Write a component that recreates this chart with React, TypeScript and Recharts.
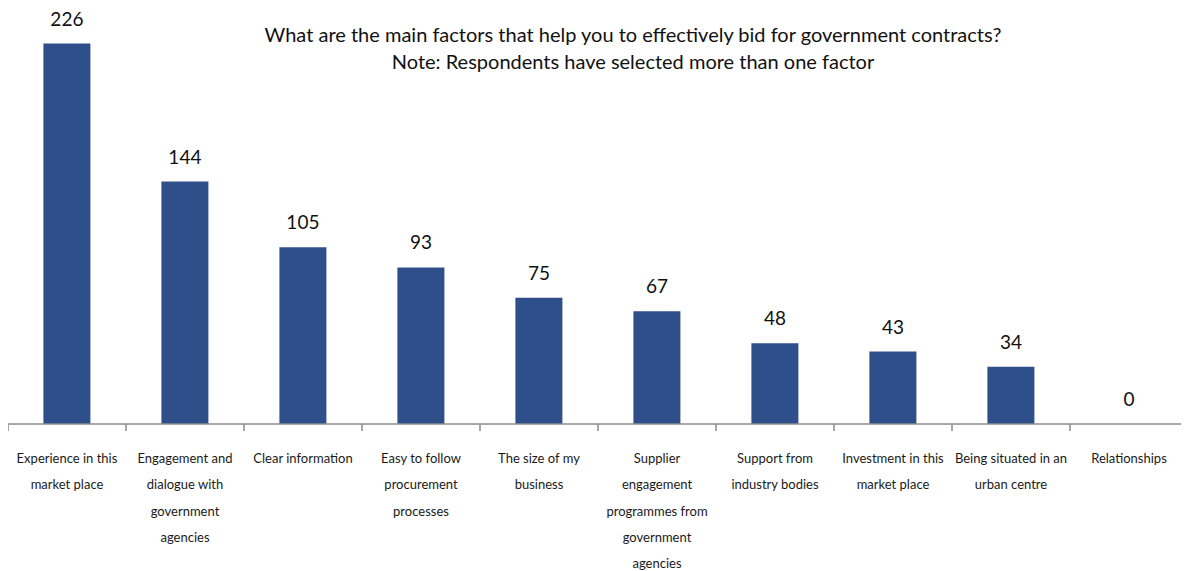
import { BarChart, Bar, XAxis, YAxis, LabelList } from 'recharts';

const categories = [
  'Experience in this\nmarket place',
  'Engagement and\ndialogue with\ngovernment\nagencies',
  'Clear information',
  'Easy to follow\nprocurement\nprocesses',
  'The size of my\nbusiness',
  'Supplier\nengagement\nprogrammes from\ngovernment\nagencies',
  'Support from\nindustry bodies',
  'Investment in this\nmarket place',
  'Being situated in an\nurban centre',
  'Relationships',
];
const responses = [226, 144, 105, 93, 75, 67, 48, 43, 34, 0];
const titleLines = [
  'What are the main factors that help you to effectively bid for government contracts?',
  'Note: Respondents have selected more than one factor',
];

const data = categories.map((name, i) => ({ name, value: responses[i] }));

const FONT = 'Lato, "Open Sans", sans-serif';
const AXIS_COLOR = '#8c8c8c';
const TICK_SHIFT = 8;

const CategoryTick = (props: any) => {
  const { x, y, payload, index } = props;
  const band = 1180 / categories.length;
  const top = y - TICK_SHIFT;
  const lines = String(payload.value).split('\n');
  const isLast = index === categories.length - 1;
  return (
    <g>
      <line x1={x - band / 2} y1={top} x2={x - band / 2} y2={top + 7} stroke={AXIS_COLOR} strokeWidth={1.5} />
      {isLast && (
        <line x1={x + band / 2 - 1} y1={top} x2={x + band / 2 - 1} y2={top + 7} stroke={AXIS_COLOR} strokeWidth={1.5} />
      )}
      <text x={x} y={top + 39} textAnchor="middle" fontFamily={FONT} fontSize={13} fill="#1a1a1a">
        {lines.map((l, i) => (
          <tspan key={i} x={x} dy={i === 0 ? 0 : 26.3}>
            {l}
          </tspan>
        ))}
      </text>
    </g>
  );
};

export default function App() {
  return (
    <div style={{ position: 'relative', width: 1181, height: 563 }}>
      <BarChart
        width={1181}
        height={563}
        data={data}
        margin={{ top: 12, right: 1, left: 0, bottom: 0 }}
        barCategoryGap="30%"
      >
        <XAxis
          dataKey="name"
          interval={0}
          height={147}
          tickLine={false}
          axisLine={{ stroke: AXIS_COLOR, strokeWidth: 1.5 }}
          tick={<CategoryTick />}
        />
        <YAxis hide domain={[0, 240]} />
        <Bar dataKey="value" fill="#2F4F8A" minPointSize={0.01} isAnimationActive={false}>
          <LabelList dataKey="value" position="top" offset={18} fontFamily={FONT} fontSize={19} fill="#111" />
        </Bar>
      </BarChart>
      <div
        style={{
          position: 'absolute',
          left: 0,
          width: 1250,
          top: 13,
          textAlign: 'center',
          fontFamily: FONT,
          fontSize: 20,
          lineHeight: '27px',
          color: '#111',
        }}
      >
        {titleLines.map((t) => (
          <div key={t}>{t}</div>
        ))}
      </div>
    </div>
  );
}
